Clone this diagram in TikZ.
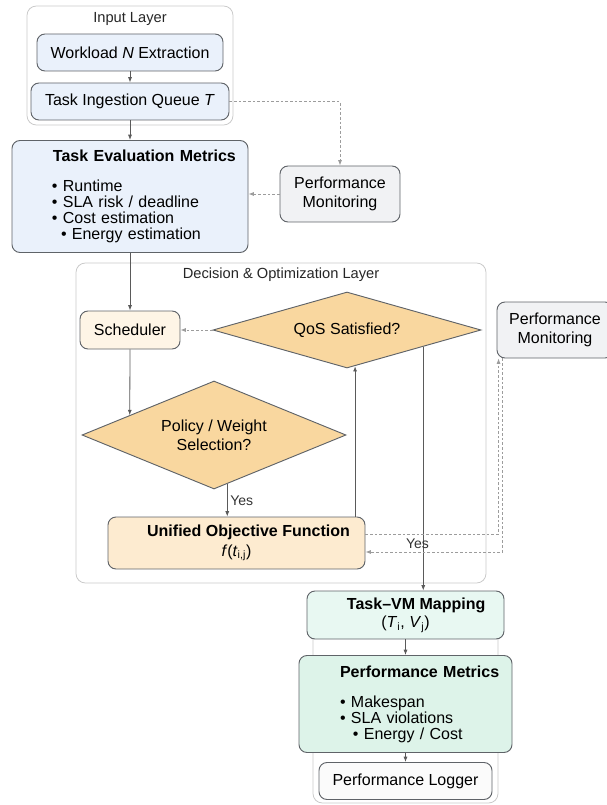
\documentclass[tikz,border=0pt]{standalone}
\usepackage{fontspec}
\setmainfont{Liberation Sans}
\usetikzlibrary{arrows.meta, positioning, shapes.geometric, calc}

\definecolor{inblue}{HTML}{EAF1FB}
\definecolor{boxline}{HTML}{5F6368}
\definecolor{monigray}{HTML}{F1F2F4}
\definecolor{schedcream}{HTML}{FEF5E6}
\definecolor{decorange}{HTML}{F9D79F}
\definecolor{objpeach}{HTML}{FDEBD0}
\definecolor{mapmint}{HTML}{E8F8F2}
\definecolor{metmint}{HTML}{DDF3E9}
\definecolor{layerline}{HTML}{CACACA}
\definecolor{arrowgray}{HTML}{5A5A5A}
\definecolor{dashgray}{HTML}{9C9C9C}

\begin{document}
\begin{tikzpicture}[
    x=0.75pt, y=-0.75pt,
    font=\fontsize{12}{14}\selectfont,
    box/.style={rectangle, rounded corners=6pt, draw=boxline, line width=0.7pt, align=center, inner sep=2pt},
    inputbox/.style={box, fill=inblue},
    monitor/.style={box, fill=monigray},
    listbox/.style={box, align=left, font=\fontsize{12}{12}\selectfont},
    decision/.style={diamond, draw=boxline, line width=0.7pt, fill=decorange, align=center, inner sep=1pt},
    layer/.style={draw=layerline, line width=0.6pt, rounded corners=7pt},
    layertitle/.style={font=\fontsize{11}{13}\selectfont, text=black!85},
    arrow/.style={-{Latex[length=4pt, width=3pt]}, draw=arrowgray, line width=0.6pt},
    dasharrow/.style={-{Latex[length=4pt, width=3pt]}, draw=dashgray, line width=0.6pt, dash pattern=on 2pt off 1.5pt},
    yeslabel/.style={font=\fontsize{10.5}{12}\selectfont, text=black!80, inner sep=2pt}
]
\useasboundingbox (0,0) rectangle (606,805);

% Layers
\draw[layer] (27,6) rectangle (233,125);
\node[layertitle] (intitle) at (130,19) {Input Layer};
\draw[layer] (76,263) rectangle (486,583);
\node[layertitle] (dectitle) at (281,275) {Decision \& Optimization Layer};
\draw[layer] (313,600) rectangle (498,803);

% Input
\node[inputbox, minimum width=139.5pt, minimum height=27.75pt] (workload) at (130,52.5) {Workload \textit{N} Extraction};
\node[inputbox, minimum width=148.5pt, minimum height=27.75pt] (queue) at (130,101.5) {Task Ingestion Queue \textit{T}};
\node[listbox, fill=inblue, minimum width=177pt, minimum height=84pt, text width=156pt] (eval) at (130,196.5) {%
  \hspace*{20.25pt}\mbox{\textbf{Task Evaluation Metrics}}\\[10.5pt]
  \hspace*{19.5pt}• Runtime\\
  \hspace*{19.5pt}• SLA risk / deadline\\
  \hspace*{19.5pt}• Cost estimation\\
  \hspace*{26.25pt}• Energy estimation};
\node[monitor, minimum width=90pt, minimum height=42pt] (pm1) at (340,194) {Performance\\Monitoring};

% Decision & optimization
\node[box, fill=schedcream, minimum width=75pt, minimum height=28.5pt] (sched) at (130,330) {Scheduler};
\node[decision, aspect=3.5, minimum width=201pt, minimum height=57pt] (qos) at (347,330) {QoS Satisfied?};
\node[decision, aspect=2.4, minimum width=198pt, minimum height=81pt] (policy) at (214,435) {Policy / Weight\\Selection?};
\node[box, fill=objpeach, minimum width=192.75pt, minimum height=39pt] (uof) at (236.5,543) {\hspace*{18pt}\textbf{Unified Objective Function}\\[1pt] \textit{f}(\textit{t}\textsubscript{i,j})};
\node[monitor, minimum width=87pt, minimum height=42pt] (pm2) at (555,330) {Performance\\Monitoring};

% Output
\node[box, fill=mapmint, minimum width=147.75pt, minimum height=36pt] (taskvm) at (405.5,615) {\hspace*{16pt}\textbf{Task–VM Mapping}\\ (\textit{T}\textsubscript{i}, \textit{V}\textsubscript{j})};
\node[listbox, fill=metmint, minimum width=159.75pt, minimum height=72.75pt, text width=140pt] (perf) at (405.5,704) {%
  \hspace*{20.9pt}\mbox{\textbf{Performance Metrics}}\\[10.5pt]
  \hspace*{20.9pt}• Makespan\\
  \hspace*{20.9pt}• SLA violations\\
  \hspace*{30.6pt}• Energy / Cost};
\node[monitor, fill=monigray!80!black!6, minimum width=129.75pt, minimum height=27.75pt] (logger) at (405.5,781) {Performance Logger};

% Points on the diamond edges
\coordinate (polIn) at ($(policy.west)!0.364!(policy.north)$);
\coordinate (polOut) at ($(policy.south)!0.1!(policy.east)$);
\coordinate (qosIn) at ($(qos.south)!0.06!(qos.east)$);
\coordinate (qosOut) at ($(qos.south)!0.567!(qos.east)$);

% Arrows
\draw[arrow] (workload) -- (queue);
\draw[arrow] (queue) -- (eval);
\draw[dasharrow] (queue.east) -| (pm1.north);
\draw[dasharrow] (pm1.west) -- (eval.east |- pm1.west);
\draw[arrow] (eval.south) -- (sched.north);
\draw[dasharrow] (qos.west) -- (sched.east);
\draw[arrow] (sched.south) -- (polIn);
\draw[arrow] (polOut) -- (polOut |- uof.north) node[yeslabel, midway, right] {Yes};
\draw[arrow] (qosIn |- uof.north) -- (qosIn);
\draw[arrow] (qosOut) -- (qosOut |- taskvm.north);
\draw[dasharrow] ($(uof.east)+(0,-9)$) -| ($(pm2.south west)+(2,0)$);
\draw[dasharrow] ($(pm2.south west)+(6,0)$) |- ($(uof.east)+(0,9)$) node[yeslabel, pos=0.81, above] {Yes};
\draw[arrow] (taskvm) -- (perf);
\draw[arrow] (perf) -- (logger);
\end{tikzpicture}
\end{document}
